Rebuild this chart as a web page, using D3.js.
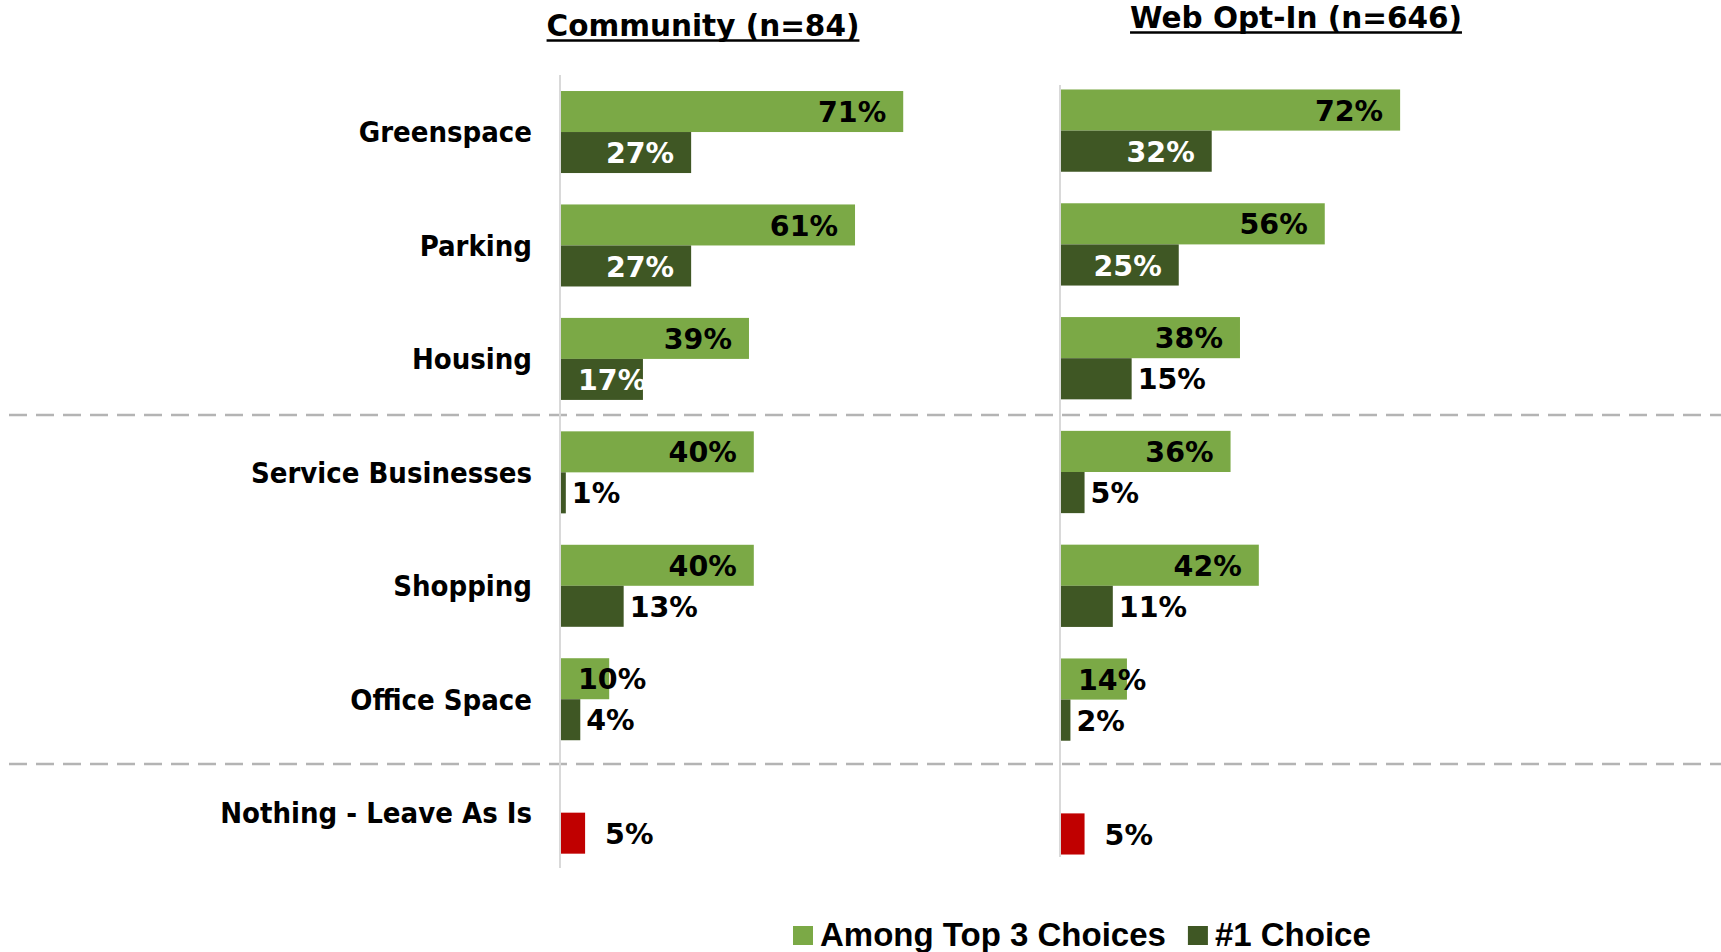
<!DOCTYPE html>
<html>
<head>
<meta charset="utf-8">
<script src="https://cdn.jsdelivr.net/npm/d3@7"></script>
<style>
  html, body { margin: 0; padding: 0; background: #ffffff; }
  svg { display: block; }
</style>
</head>
<body>
<svg id="chart" width="1721" height="952"></svg>
<script>
// ---- Data -------------------------------------------------------------
const categories = [
  "Greenspace",
  "Parking",
  "Housing",
  "Service Businesses",
  "Shopping",
  "Office Space",
  "Nothing - Leave As Is"
];
const communityTop3  = [71, 61, 39, 40, 40, 10, null];
const communityFirst = [27, 27, 17, 1, 13, 4, 5];
const webTop3        = [72, 56, 38, 36, 42, 14, null];
const webFirst       = [32, 25, 15, 5, 11, 2, 5];
const panelTitles    = ["Community (n=84)", "Web Opt-In (n=646)"];
const seriesNames    = ["Among Top 3 Choices", "#1 Choice"];
const leaveAsIsCategory = "Nothing - Leave As Is";

// ---- Style and layout -------------------------------------------------
const colors = { top3: "#7BA946", first: "#3F5724", leave: "#C00000" };
const valueFont = "'DejaVu Sans', Verdana, sans-serif";
const labelFont = "'DejaVu Sans Condensed', 'DejaVu Sans', sans-serif";
const legendFont = "'Liberation Sans', Arial, sans-serif";

const panels = [
  { title: panelTitles[0], top3: communityTop3, first: communityFirst,
    x0: 561, pxPerPct: 4.82, yTop: 75.3, yBottom: 869.4,
    axisTop: 75, axisBottom: 868, titleX: 703, titleY: 36 },
  { title: panelTitles[1], top3: webTop3, first: webFirst,
    x0: 1061, pxPerPct: 4.71, yTop: 73.7, yBottom: 870.3,
    axisTop: 85, axisBottom: 857, titleX: 1296, titleY: 28 }
];
const separatorYs = [415, 764];
const labelRight = 532;

const svg = d3.select("#chart");

// Dashed separators between category groups (full width)
svg.selectAll("line.sep")
  .data(separatorYs)
  .join("line")
  .attr("class", "sep")
  .attr("x1", 9).attr("x2", 1721)
  .attr("y1", d => d).attr("y2", d => d)
  .attr("stroke", "#B4B4B4")
  .attr("stroke-width", 2.6)
  .attr("stroke-dasharray", "18,9");

panels.forEach((p, pi) => {
  const x = d3.scaleLinear().domain([0, 100]).range([p.x0, p.x0 + 100 * p.pxPerPct]);
  const y = d3.scaleBand().domain(categories).range([p.yTop, p.yBottom])
    .paddingInner(0.277).paddingOuter(0.1386);
  const inner = d3.scaleBand().domain(["top3", "first"]).range([0, y.bandwidth()]);

  const g = svg.append("g").attr("class", "panel");

  // Category axis line
  g.append("line")
    .attr("x1", x(0) - 1).attr("x2", x(0) - 1)
    .attr("y1", p.axisTop).attr("y2", p.axisBottom)
    .attr("stroke", "#D9D9D9").attr("stroke-width", 2);

  const rows = [];
  categories.forEach((c, i) => {
    if (p.top3[i] != null) rows.push({ cat: c, key: "top3", v: p.top3[i] });
    if (p.first[i] != null) rows.push({ cat: c, key: "first", v: p.first[i] });
  });

  const fillFor = d => d.cat === leaveAsIsCategory ? colors.leave : colors[d.key];

  g.selectAll("rect.bar")
    .data(rows)
    .join("rect")
    .attr("class", "bar")
    .attr("x", x(0))
    .attr("y", d => y(d.cat) + inner(d.key))
    .attr("width", d => x(d.v) - x(0))
    .attr("height", inner.bandwidth())
    .attr("fill", fillFor);

  // Value labels
  const pad = 17;
  g.selectAll("text.val")
    .data(rows)
    .join("text")
    .attr("class", "val")
    .attr("font-family", valueFont)
    .attr("font-weight", "bold")
    .attr("font-size", 28.5)
    .attr("y", d => y(d.cat) + inner(d.key) + inner.bandwidth() / 2)
    .attr("dy", "0.37em")
    .text(d => d.v + "%")
    .each(function (d) {
      const t = d3.select(this);
      const w = this.getComputedTextLength();
      const end = x(d.v);
      const barW = end - x(0);
      let inside, tx;
      if (d.cat === leaveAsIsCategory) {
        inside = false; tx = end + 20;
      } else if (d.key === "top3") {
        inside = true;
        tx = Math.max(end - pad - w, x(0) + pad);
      } else if (barW >= 75) {
        inside = true;
        tx = Math.max(end - pad - w, x(0) + pad);
      } else {
        inside = false; tx = end + 6;
      }
      t.attr("x", tx).attr("text-anchor", "start")
        .attr("fill", d.key === "first" && inside ? "#FFFFFF" : "#000000");
      // white labels wider than their bar fade into the background past the bar end
      if (d.key === "first" && inside && tx + w > end) {
        const clipId = `clip-${pi}-${categories.indexOf(d.cat)}`;
        svg.append("clipPath").attr("id", clipId)
          .append("rect")
          .attr("x", x(0)).attr("y", y(d.cat) + inner(d.key))
          .attr("width", barW).attr("height", inner.bandwidth());
        t.attr("clip-path", `url(#${clipId})`);
      }
    });

  // Category labels (left panel only)
  if (pi === 0) {
    g.selectAll("text.cat")
      .data(categories)
      .join("text")
      .attr("class", "cat")
      .attr("x", labelRight)
      .attr("y", d => y(d) + y.bandwidth() / 2)
      .attr("dy", "0.36em")
      .attr("text-anchor", "end")
      .attr("font-family", labelFont)
      .attr("font-weight", "bold")
      .attr("font-size", 29)
      .attr("fill", "#000")
      .text(d => d);
  }

  // Panel title with underline
  const title = svg.append("text")
    .attr("x", p.titleX).attr("y", p.titleY)
    .attr("text-anchor", "middle")
    .attr("font-family", valueFont)
    .attr("font-weight", "bold")
    .attr("font-size", 29.5)
    .attr("fill", "#000")
    .text(p.title);
  const tw = title.node().getComputedTextLength();
  svg.append("line")
    .attr("x1", p.titleX - tw / 2).attr("x2", p.titleX + tw / 2)
    .attr("y1", p.titleY + 4.5).attr("y2", p.titleY + 4.5)
    .attr("stroke", "#000").attr("stroke-width", 2.6);
});

// Legend
const legendItems = [
  { name: seriesNames[0], color: colors.top3 },
  { name: seriesNames[1], color: colors.first }
];
const legend = svg.append("g").attr("class", "legend");
let lx = 793;
legendItems.forEach(item => {
  legend.append("rect")
    .attr("x", lx).attr("y", 926).attr("width", 20).attr("height", 19)
    .attr("fill", item.color);
  const t = legend.append("text")
    .attr("x", lx + 27).attr("y", 946)
    .attr("font-family", legendFont)
    .attr("font-weight", "bold")
    .attr("font-size", 33)
    .attr("fill", "#000")
    .text(item.name);
  lx += 27 + t.node().getComputedTextLength() + 22;
});
</script>
</body>
</html>
